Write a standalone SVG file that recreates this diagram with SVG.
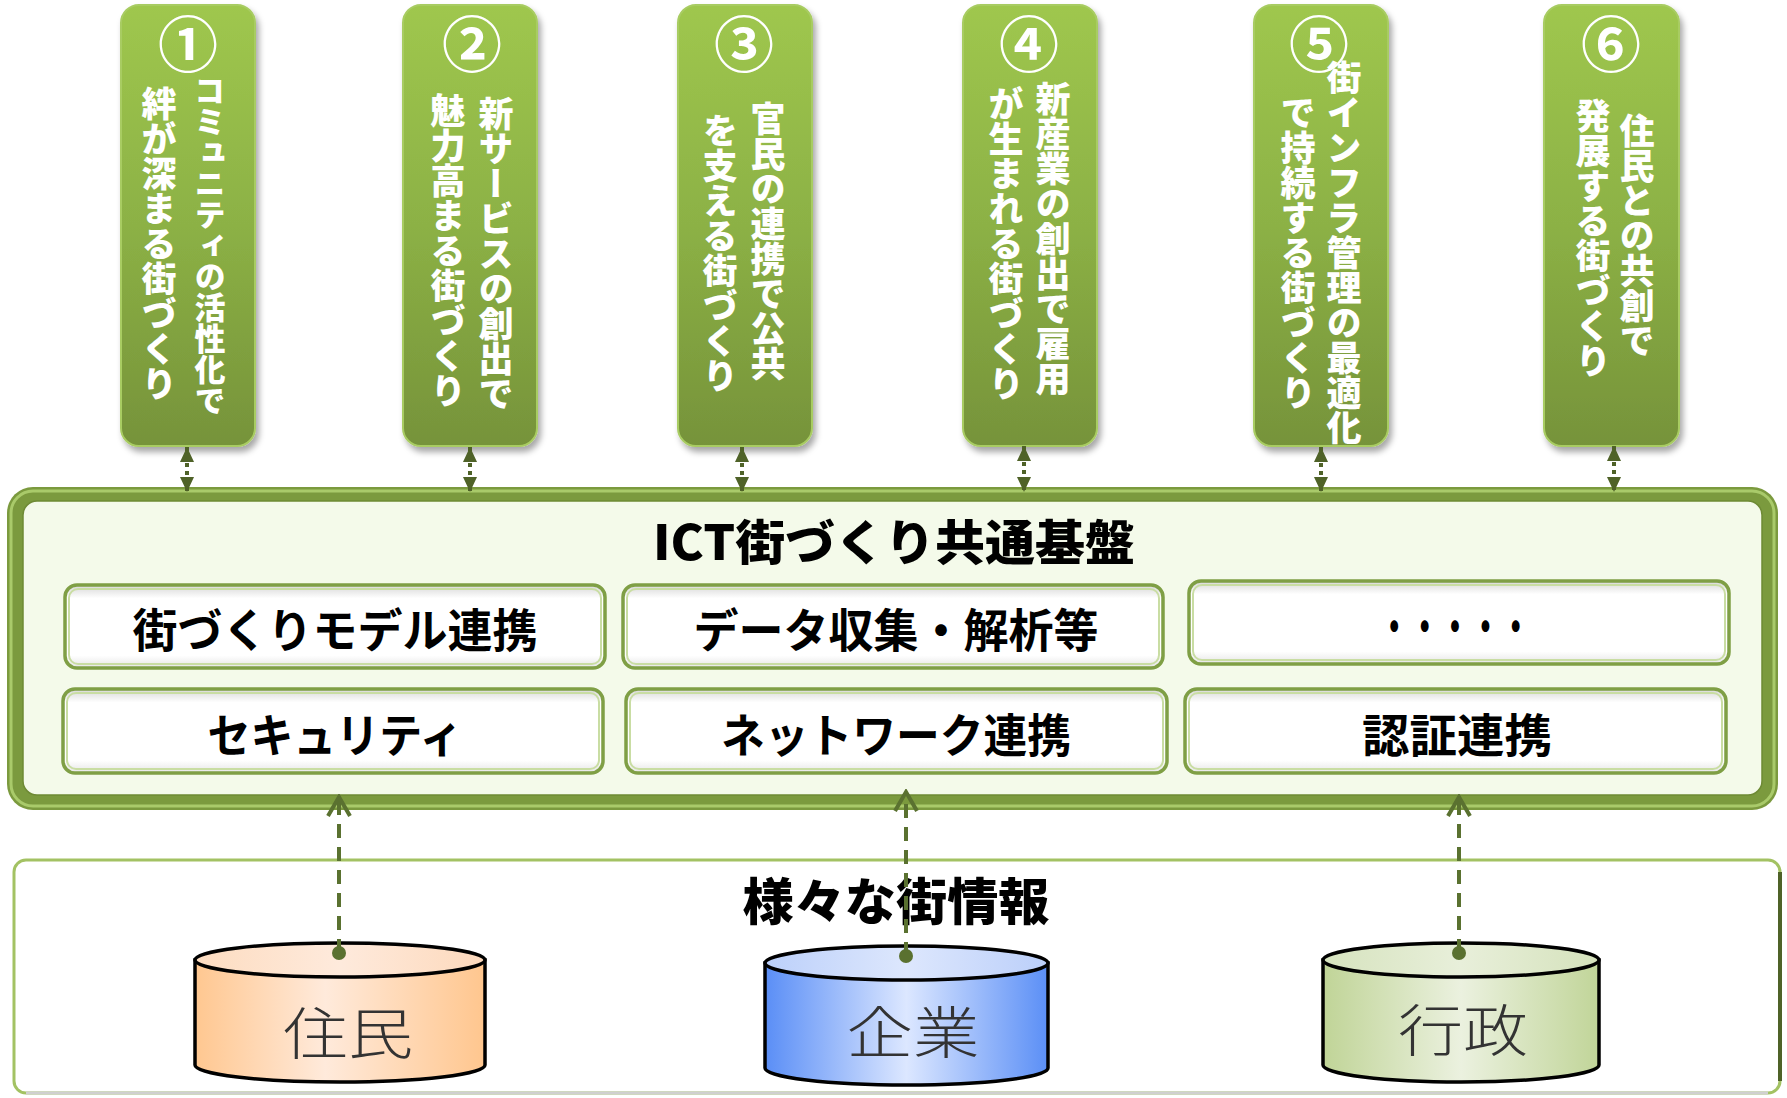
<svg xmlns="http://www.w3.org/2000/svg" width="1787" height="1098" viewBox="0 0 1787 1098">
<style>
  text { font-family: "Noto Sans CJK JP", "Noto Sans CJK SC", sans-serif; }
  .goal { fill: url(#goalG); stroke: #A8CC62; stroke-width: 2; filter: url(#sh); }
  .num { fill: #ffffff; font-size: 60px; font-weight: 700; text-anchor: middle; dominant-baseline: central; }
  .vt { fill: #ffffff; font-size: 35px; font-weight: 900; writing-mode: vertical-rl; }
  .vts { font-size: 31px; }
  .panel { fill: url(#panelG); stroke: #7F9F45; stroke-width: 3.5; }
  .panelIn { fill: none; stroke: #C9DDA3; stroke-width: 2; }
  .ptxt { fill: #000000; font-size: 46px; font-weight: 700; text-anchor: middle; }
  .title { fill: #000000; font-weight: 900; text-anchor: middle; }
  .cyl { stroke: #000000; stroke-width: 3.5; }
  .ctxt { fill: #333333; font-size: 56px; font-weight: 300; text-anchor: middle; }
  .dbl { stroke: #4F6228; stroke-width: 4; stroke-dasharray: 4 4; fill: none; marker-start: url(#tri); marker-end: url(#tri); }
  .up { stroke: #5A7130; stroke-width: 4; stroke-dasharray: 14 9; fill: none; marker-start: url(#dot); marker-end: url(#chev); }
</style>
<defs>
  <linearGradient id="goalG" x1="0" y1="0" x2="0" y2="1">
    <stop offset="0" stop-color="#9FC74E"/>
    <stop offset="0.5" stop-color="#8CB145"/>
    <stop offset="1" stop-color="#76933A"/>
  </linearGradient>
  <linearGradient id="panelG" x1="0" y1="0" x2="0" y2="1">
    <stop offset="0" stop-color="#D6D6D6"/>
    <stop offset="0.16" stop-color="#FFFFFF"/>
    <stop offset="0.85" stop-color="#FFFFFF"/>
    <stop offset="1" stop-color="#E4E4E4"/>
  </linearGradient>
  <linearGradient id="orG" x1="0" y1="0" x2="1" y2="0">
    <stop offset="0" stop-color="#FFC790"/>
    <stop offset="0.45" stop-color="#FFEADB"/>
    <stop offset="1" stop-color="#FFC68E"/>
  </linearGradient>
  <linearGradient id="orT" x1="0" y1="0" x2="1" y2="0">
    <stop offset="0" stop-color="#FDDCC0"/>
    <stop offset="0.5" stop-color="#FEEADC"/>
    <stop offset="1" stop-color="#FDD9BC"/>
  </linearGradient>
  <linearGradient id="blG" x1="0" y1="0" x2="1" y2="0">
    <stop offset="0" stop-color="#5A8EF6"/>
    <stop offset="0.5" stop-color="#DCE7FF"/>
    <stop offset="1" stop-color="#5B8FF6"/>
  </linearGradient>
  <linearGradient id="blT" x1="0" y1="0" x2="1" y2="0">
    <stop offset="0" stop-color="#BCD0FA"/>
    <stop offset="0.5" stop-color="#DDE7FD"/>
    <stop offset="1" stop-color="#BBCFFA"/>
  </linearGradient>
  <linearGradient id="grG" x1="0" y1="0" x2="1" y2="0">
    <stop offset="0" stop-color="#C0D497"/>
    <stop offset="0.5" stop-color="#EBF1DF"/>
    <stop offset="1" stop-color="#C1D599"/>
  </linearGradient>
  <linearGradient id="grT" x1="0" y1="0" x2="1" y2="0">
    <stop offset="0" stop-color="#D6E3BE"/>
    <stop offset="0.5" stop-color="#E8EFDA"/>
    <stop offset="1" stop-color="#D5E2BC"/>
  </linearGradient>
  <filter id="sh" x="-15%" y="-5%" width="135%" height="115%">
    <feDropShadow dx="3" dy="5" stdDeviation="3" flood-color="#000000" flood-opacity="0.35"/>
  </filter>
  <marker id="tri" viewBox="0 0 15 14" refX="15" refY="7" markerWidth="15" markerHeight="14" markerUnits="userSpaceOnUse" orient="auto-start-reverse">
    <path d="M0,0 L15,7 L0,14 Z" fill="#4F6228"/>
  </marker>
  <marker id="chev" viewBox="0 0 24 26" refX="21" refY="13" markerWidth="24" markerHeight="26" markerUnits="userSpaceOnUse" orient="auto">
    <path d="M2,2 L21,13 L2,24" fill="none" stroke="#5A7130" stroke-width="4" stroke-linejoin="miter"/>
  </marker>
  <marker id="dot" viewBox="0 0 16 16" refX="8" refY="8" markerWidth="16" markerHeight="16" markerUnits="userSpaceOnUse" orient="auto">
    <circle cx="8" cy="8" r="7" fill="#5A7130"/>
  </marker>
</defs>

<rect x="0" y="0" width="1787" height="1098" fill="#ffffff"/>

<!-- bottom frame: 様々な街情報 -->
<g id="cityinfo">
  <rect x="14" y="860" width="1766" height="233" rx="12" fill="#ffffff" stroke="#A3C263" stroke-width="3"/>
  <path d="M1780,872 V1081" stroke="#4F6228" stroke-width="4" fill="none"/>
  <path d="M26,1093 H1768" stroke="#D0D0D0" stroke-width="3" fill="none"/>
  <text class="title" x="896" y="920" font-size="50" textLength="307" lengthAdjust="spacingAndGlyphs">様々な街情報</text>
</g>

<!-- big frame: ICT街づくり共通基盤 -->
<g id="platform">
  <rect x="7" y="487" width="1771" height="323" rx="26" fill="#7B9A3E"/>
  <rect x="11" y="491" width="1763" height="315" rx="22" fill="none" stroke="#A9CA6A" stroke-width="3"/>
  <rect x="23" y="501" width="1739" height="294" rx="14" fill="#F4FAEA" stroke="#6E8A35" stroke-width="1.5"/>
  <text class="title" x="894" y="560" font-size="48" textLength="482" lengthAdjust="spacingAndGlyphs">ICT街づくり共通基盤</text>
</g>

<g id="p-model">
  <rect class="panel" x="65" y="585" width="540" height="83" rx="12"/>
  <rect class="panelIn" x="69" y="589" width="532" height="75" rx="9"/>
  <text class="ptxt" x="335" y="647" textLength="405" lengthAdjust="spacingAndGlyphs">街づくりモデル連携</text>
</g>
<g id="p-data">
  <rect class="panel" x="623" y="585" width="540" height="83" rx="12"/>
  <rect class="panelIn" x="627" y="589" width="532" height="75" rx="9"/>
  <text class="ptxt" x="896" y="647" textLength="405" lengthAdjust="spacingAndGlyphs">データ収集・解析等</text>
</g>
<g id="p-etc">
  <rect class="panel" x="1189" y="581" width="540" height="83" rx="12"/>
  <rect class="panelIn" x="1193" y="585" width="532" height="75" rx="9"/>
  <text class="ptxt" x="1455" y="643" textLength="152" lengthAdjust="spacingAndGlyphs">・・・・・</text>
</g>
<g id="p-security">
  <rect class="panel" x="63" y="689" width="540" height="84" rx="12"/>
  <rect class="panelIn" x="67" y="693" width="532" height="76" rx="9"/>
  <text class="ptxt" x="335" y="752" textLength="255" lengthAdjust="spacingAndGlyphs">セキュリティ</text>
</g>
<g id="p-network">
  <rect class="panel" x="626" y="689" width="541" height="84" rx="12"/>
  <rect class="panelIn" x="630" y="693" width="533" height="76" rx="9"/>
  <text class="ptxt" x="896" y="752" textLength="350" lengthAdjust="spacingAndGlyphs">ネットワーク連携</text>
</g>
<g id="p-auth">
  <rect class="panel" x="1185" y="689" width="541" height="84" rx="12"/>
  <rect class="panelIn" x="1189" y="693" width="533" height="76" rx="9"/>
  <text class="ptxt" x="1457" y="752" textLength="190" lengthAdjust="spacingAndGlyphs">認証連携</text>
</g>

<!-- goals -->
<g id="goal1">
  <rect class="goal" x="121" y="5" width="134" height="441" rx="18"/>
  <text class="num" x="188" y="40">①</text>
  <text class="vt vts" x="210" y="75">コミュニティの活性化で</text>
  <text class="vt" x="159" y="86">絆が深まる街づくり</text>
</g>
<g id="goal2">
  <rect class="goal" x="403" y="5" width="134" height="441" rx="18"/>
  <text class="num" x="472" y="40">②</text>
  <text class="vt" x="496" y="96">新サービスの創出で</text>
  <text class="vt" x="448" y="93">魅力高まる街づくり</text>
</g>
<g id="goal3">
  <rect class="goal" x="678" y="5" width="134" height="441" rx="18"/>
  <text class="num" x="744" y="40">③</text>
  <text class="vt" x="768" y="101">官民の連携で公共</text>
  <text class="vt" x="720" y="113">を支える街づくり</text>
</g>
<g id="goal4">
  <rect class="goal" x="963" y="5" width="134" height="441" rx="18"/>
  <text class="num" x="1029" y="40">④</text>
  <text class="vt" x="1053" y="81">新産業の創出で雇用</text>
  <text class="vt" x="1006" y="86">が生まれる街づくり</text>
</g>
<g id="goal5">
  <rect class="goal" x="1254" y="5" width="134" height="441" rx="18"/>
  <text class="num" x="1319" y="40">⑤</text>
  <text class="vt" x="1344" y="60">街インフラ管理の最適化</text>
  <text class="vt" x="1298" y="95">で持続する街づくり</text>
</g>
<g id="goal6">
  <rect class="goal" x="1544" y="5" width="135" height="441" rx="18"/>
  <text class="num" x="1611" y="40">⑥</text>
  <text class="vt" x="1637" y="113">住民との共創で</text>
  <text class="vt" x="1593" y="98">発展する街づくり</text>
</g>

<!-- data stores -->
<g id="residents">
  <path class="cyl" d="M195,960 L195,1065 A145,17 0 0 0 485,1065 L485,960 Z" fill="url(#orG)"/>
  <ellipse class="cyl" cx="340" cy="960" rx="145" ry="17" fill="url(#orT)"/>
  <text class="ctxt" x="348" y="1054" textLength="130" lengthAdjust="spacingAndGlyphs">住民</text>
</g>
<g id="companies">
  <path class="cyl" d="M765,963 L765,1068 A141.5,17 0 0 0 1048,1068 L1048,963 Z" fill="url(#blG)"/>
  <ellipse class="cyl" cx="906.5" cy="963" rx="141.5" ry="17" fill="url(#blT)"/>
  <text class="ctxt" x="913" y="1053" textLength="133" lengthAdjust="spacingAndGlyphs">企業</text>
</g>
<g id="government">
  <path class="cyl" d="M1323,960 L1323,1065 A138,17 0 0 0 1599,1065 L1599,960 Z" fill="url(#grG)"/>
  <ellipse class="cyl" cx="1461" cy="960" rx="138" ry="17" fill="url(#grT)"/>
  <text class="ctxt" x="1463" y="1051" textLength="130" lengthAdjust="spacingAndGlyphs">行政</text>
</g>

<!-- connectors -->
<g id="connectors">
  <line class="dbl" x1="187" y1="447" x2="187" y2="492"/>
  <line class="dbl" x1="470" y1="447" x2="470" y2="492"/>
  <line class="dbl" x1="742" y1="447" x2="742" y2="492"/>
  <line class="dbl" x1="1024" y1="446" x2="1024" y2="492"/>
  <line class="dbl" x1="1321" y1="447" x2="1321" y2="492"/>
  <line class="dbl" x1="1614" y1="446" x2="1614" y2="492"/>
  <line class="up" x1="339" y1="953" x2="339" y2="797"/>
  <line class="up" x1="906" y1="956" x2="906" y2="792"/>
  <line class="up" x1="1459" y1="953" x2="1459" y2="797"/>
</g>
</svg>
